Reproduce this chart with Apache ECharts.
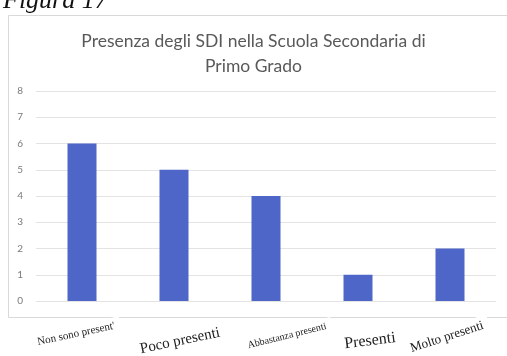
<!DOCTYPE html>
<html>
<head>
<meta charset="utf-8">
<script src="https://cdn.jsdelivr.net/npm/echarts@6/dist/echarts.min.js"></script>
<style>
  html, body { margin: 0; padding: 0; background: #fff; }
  #chart { width: 507px; height: 356px; }
</style>
</head>
<body>
<div id="chart"></div>
<script>
// Survey answers: how present SDI are in lower secondary school
const categories = ['Non sono present\'', 'Poco presenti', 'Abbastanza presenti', 'Presenti', 'Molto presenti'];
const counts = [6, 5, 4, 1, 2];
const yTicks = [0, 1, 2, 3, 4, 5, 6, 7, 8];

// Hand-set look of each category label (pasted, tilted captions)
const labelLook = [
  { dx: -6, dy: 33, rot: 12, size: 11 },
  { dx: 6,  dy: 40, rot: 12, size: 15 },
  { dx: 21, dy: 35, rot: 14, size: 10 },
  { dx: 12, dy: 40, rot: 7,  size: 16 },
  { dx: -3, dy: 36, rot: 18, size: 13 }
];

const chart = echarts.init(document.getElementById('chart'));
chart.setOption({
  animation: false,
  title: {
    text: 'Presenza degli SDI nella Scuola Secondaria di\nPrimo Grado',
    left: 'center',
    top: 24,
    textStyle: { fontFamily: 'Lato', fontSize: 17.5, fontWeight: 'normal', color: '#595959', lineHeight: 25 }
  },
  graphic: [
    { type: 'rect', silent: true, z: -1,
      shape: { x: 8.5, y: 15.5, width: 520, height: 302 },
      style: { fill: '#fff', stroke: '#d9d9d9', lineWidth: 1 } },
    { type: 'text', left: 3, top: -12, silent: true,
      style: { text: 'Figura 17', font: 'italic 26px "Liberation Serif"', fill: '#111' } }
  ],
  grid: { left: 36, right: 11, top: 91, bottom: 55 },
  xAxis: {
    type: 'category',
    data: categories,
    axisLine: { show: false },
    axisTick: { show: false },
    axisLabel: { show: false }
  },
  yAxis: {
    type: 'value',
    min: yTicks[0],
    max: yTicks[yTicks.length - 1],
    interval: 1,
    axisLine: { show: false },
    axisTick: { show: false },
    axisLabel: { color: '#7a7a7a', fontSize: 10, fontFamily: 'Lato', margin: 13 },
    splitLine: { lineStyle: { color: '#e3e3e3', width: 1 } }
  },
  series: [
    {
      type: 'bar',
      data: counts,
      barWidth: 29,
      itemStyle: { color: '#4f66c9' }
    },
    {
      type: 'custom',
      data: categories.map((c, i) => [i, 0]),
      z: 10,
      renderItem: function (params, api) {
        const i = params.dataIndex;
        const p = api.coord([api.value(0), api.value(1)]);
        const look = labelLook[i];
        return {
          type: 'text',
          x: p[0] + look.dx,
          y: p[1] + look.dy,
          rotation: look.rot * Math.PI / 180,
          style: {
            text: categories[i],
            font: look.size + 'px "Liberation Serif"',
            fill: '#222',
            align: 'center',
            verticalAlign: 'middle',
            backgroundColor: '#fff',
            padding: [3, 6]
          }
        };
      }
    }
  ]
});
</script>
</body>
</html>
